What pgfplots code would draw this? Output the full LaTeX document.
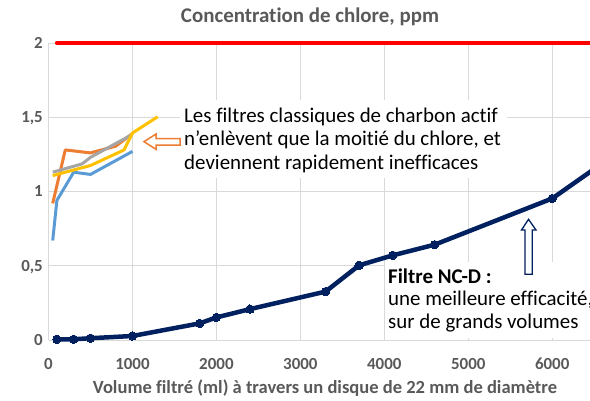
\documentclass[border=0pt]{standalone}
\usepackage{fontspec}
\setmainfont{Carlito}[Ligatures=NoCommon]
\usepackage{pgfplots}
\pgfplotsset{compat=1.18}
\definecolor{txtgray}{HTML}{595959}
\definecolor{gridgray}{HTML}{D9D9D9}
\definecolor{navy}{HTML}{002060}
\definecolor{xblue}{HTML}{5B9BD5}
\definecolor{xorange}{HTML}{ED7D31}
\definecolor{xgray}{HTML}{A5A5A5}
\definecolor{xyellow}{HTML}{FFC000}
\definecolor{xred}{HTML}{FF0000}

\begin{document}
\begin{tikzpicture}[x=1bp,y=1bp]
\useasboundingbox (0,0) rectangle (590,400);
\clip (0,0) rectangle (590,400);
\begin{axis}[
  at={(48.5bp,60bp)}, anchor=south west,
  scale only axis, width=541.5bp, height=297bp,
  xmin=0, xmax=6450, ymin=0, ymax=2,
  xtick={0,1000,...,6000}, ytick={0,0.5,1,1.5,2},
  grid=major, major grid style={gridgray, line width=0.8bp},
  axis line style={draw=none},
  major tick length=0pt,
  clip=false,
  scaled x ticks=false,
  /pgf/number format/use comma,
  /pgf/number format/1000 sep={},
  /pgf/number format/assume math mode=true,
  tick label style={font=\fontsize{17}{20}\selectfont\bfseries, text=txtgray, inner sep=0pt},
  xticklabel style={anchor=base, yshift=-29.3bp},
  yticklabel style={anchor=base east, xshift=-5.5bp, yshift=-5.4bp},
]
% red reference line
\addplot[xred, line width=4bp, line cap=round] coordinates {(100,2) (7000,2)};

% classic carbon filters
\addplot[xblue, line width=3bp, line join=round] coordinates {
  (50,0.67) (100,0.94) (300,1.13) (500,1.115) (1000,1.27)};
\addplot[xorange, line width=3bp, line join=round] coordinates {
  (50,0.92) (200,1.28) (500,1.26) (800,1.305) (1000,1.39)};
\addplot[xgray, line width=3bp, line join=round] coordinates {
  (50,1.13) (400,1.186) (500,1.23) (1000,1.385)};
\addplot[xyellow, line width=3bp, line join=round] coordinates {
  (50,1.107) (300,1.145) (500,1.175) (900,1.28) (1000,1.394) (1300,1.503)};
\end{axis}

% white text boxes (under the NC-D curve)
\fill[white] (180,222) rectangle (507,300);
\fill[white] (385,62) rectangle (590,138);

\begin{axis}[
  at={(48.5bp,60bp)}, anchor=south west,
  scale only axis, width=541.5bp, height=297bp,
  xmin=0, xmax=6450, ymin=0, ymax=2,
  hide axis, clip=false,
]
% NC-D filter
\addplot[navy, line width=4.5bp, line join=round, mark=*, mark size=4.2bp,
  mark options={fill=navy, draw=navy, line width=0pt}] coordinates {
  (100,0.005) (300,0.005) (500,0.012) (1000,0.027) (1800,0.112) (2000,0.152)
  (2400,0.208) (3300,0.326) (3700,0.503) (4100,0.57) (4600,0.642) (6000,0.953)
  (7000,1.35)};
\end{axis}

% title and x label
\node[anchor=base, text=txtgray, font=\fontsize{21}{25}\selectfont\bfseries, inner sep=0pt]
  at (310,377.3) {Concentration de chlore, ppm};
\node[anchor=base, text=txtgray, font=\fontsize{18.6}{22}\selectfont\bfseries, inner sep=0pt]
  at (325,6.7) {Volume filtré (ml) à travers un disque de 22 mm de diamètre};

% annotation 1
\begin{scope}[every node/.style={anchor=base west, inner sep=0pt, font=\fontsize{21}{24}\selectfont}]
\node at (184,277.7) {Les filtres classiques de charbon actif};
\node at (184,254.5) {n’enlèvent que la moitié du chlore, et};
\node at (184,231) {deviennent rapidement inefficaces};
\end{scope}
\filldraw[fill=white, draw=xorange, line width=1.5bp, line join=miter]
  (144,258.3) -- (156,266) -- (156,261.5) -- (180,261.5) -- (180,255)
  -- (156,255) -- (156,250.7) -- cycle;

% annotation 2
\begin{scope}[every node/.style={anchor=base west, inner sep=0pt, font=\fontsize{21}{24}\selectfont}]
\node[font=\fontsize{21}{24}\selectfont\bfseries] at (388,116.7) {Filtre NC-D :};
\node at (388,94.5) {une meilleure efficacité,};
\node at (388,72) {sur de grands volumes};
\end{scope}
\filldraw[fill=white, draw=navy, line width=1.3bp, line join=miter]
  (528.5,180.7) -- (536,170) -- (532.3,170) -- (532.3,125.7) -- (525,125.7)
  -- (525,170) -- (521.5,170) -- cycle;
\end{tikzpicture}
\end{document}
